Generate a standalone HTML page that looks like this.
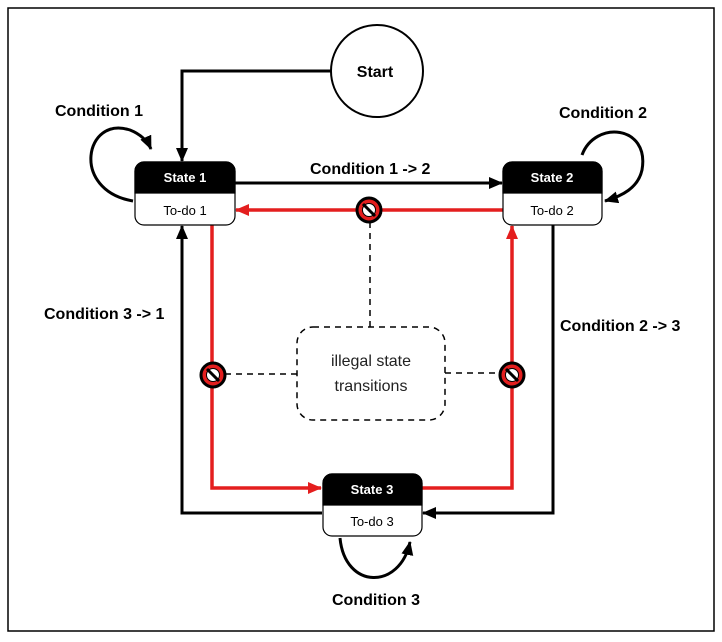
<!DOCTYPE html>
<html><head><style>
body{margin:0;background:#fff}
svg text{font-family:"Liberation Sans",sans-serif}
</style></head><body>
<svg width="722" height="637" viewBox="0 0 722 637" xmlns="http://www.w3.org/2000/svg">
<defs>
<marker id="ar" markerWidth="14" markerHeight="12" refX="13" refY="6" orient="auto" markerUnits="userSpaceOnUse"><path d="M0,0 L14,6 L0,12 z" fill="#e41e1e"/></marker>
<marker id="ab2" markerWidth="14" markerHeight="12" refX="13" refY="6" orient="auto" markerUnits="userSpaceOnUse"><path d="M0,0 L14,6 L0,12 z" fill="#000"/></marker>
<g id="no"><circle r="12" fill="#e41e1e" stroke="#000" stroke-width="3"/><circle r="6.5" fill="#fff" stroke="#000" stroke-width="1"/><line x1="-6" y1="-6" x2="6" y2="6" stroke="#000" stroke-width="3"/></g>
</defs>
<rect x="8" y="8" width="706" height="623" fill="none" stroke="#000" stroke-width="1.5"/>
<circle cx="377" cy="71" r="46" fill="#fff" stroke="#000" stroke-width="2"/>
<text x="375" y="77" font-size="16" font-weight="bold" text-anchor="middle">Start</text>
<polyline points="331,71 182,71 182,161" fill="none" stroke="#000" stroke-width="3" marker-end="url(#ab2)"/>
<line x1="235" y1="183" x2="502" y2="183" stroke="#000" stroke-width="3" marker-end="url(#ab2)"/>
<polyline points="322,513 182,513 182,226" fill="none" stroke="#000" stroke-width="3" marker-end="url(#ab2)"/>
<polyline points="553,225 553,513 423,513" fill="none" stroke="#000" stroke-width="3" marker-end="url(#ab2)"/>
<line x1="503" y1="210" x2="236" y2="210" stroke="#e41e1e" stroke-width="3.5" marker-end="url(#ar)"/>
<polyline points="212,225 212,488 321,488" fill="none" stroke="#e41e1e" stroke-width="3.5" marker-end="url(#ar)"/>
<polyline points="421,488 512,488 512,226" fill="none" stroke="#e41e1e" stroke-width="3.5" marker-end="url(#ar)"/>
<g stroke="#000" stroke-width="1.5" stroke-dasharray="6,5" fill="none">
<rect x="297" y="327" width="148" height="93" rx="16"/>
<line x1="370" y1="222" x2="370" y2="327"/>
<line x1="225" y1="374" x2="297" y2="374"/>
<line x1="445" y1="373" x2="500" y2="373"/>
</g>
<text x="371" y="366" font-size="16" text-anchor="middle" fill="#222">illegal state</text>
<text x="371" y="391" font-size="16" text-anchor="middle" fill="#222">transitions</text>
<use href="#no" x="369" y="210"/>
<use href="#no" x="213" y="375"/>
<use href="#no" x="512" y="375"/>
<path d="M133,201 C70,190 85,115 130,130 C140,134 147,140 151,149" fill="none" stroke="#000" stroke-width="3" marker-end="url(#ab2)"/>
<path d="M582,155 C595,120 650,125 642,170 C638,188 622,196 605,201" fill="none" stroke="#000" stroke-width="3" marker-end="url(#ab2)"/>
<path d="M340,538 C345,590 400,590 410,542" fill="none" stroke="#000" stroke-width="3" marker-end="url(#ab2)"/>
<g stroke="#000" stroke-width="1.2">
<rect x="135" y="162" width="100" height="63" rx="9" fill="#fff"/>
<path d="M135,193 V171 a9,9 0 0 1 9,-9 H226 a9,9 0 0 1 9,9 V193 Z" fill="#000"/>
<rect x="503" y="162" width="99" height="63" rx="9" fill="#fff"/>
<path d="M503,193 V171 a9,9 0 0 1 9,-9 H593 a9,9 0 0 1 9,9 V193 Z" fill="#000"/>
<rect x="323" y="474" width="99" height="62" rx="9" fill="#fff"/>
<path d="M323,505 V483 a9,9 0 0 1 9,-9 H413 a9,9 0 0 1 9,9 V505 Z" fill="#000"/>
</g>
<g font-size="13" text-anchor="middle">
<text x="185" y="182" fill="#fff" font-weight="bold">State 1</text>
<text x="185" y="215">To-do 1</text>
<text x="552" y="182" fill="#fff" font-weight="bold">State 2</text>
<text x="552" y="215">To-do 2</text>
<text x="372" y="494" fill="#fff" font-weight="bold">State 3</text>
<text x="372" y="526">To-do 3</text>
</g>
<g font-size="16" font-weight="bold">
<text x="55" y="116">Condition 1</text>
<text x="559" y="118">Condition 2</text>
<text x="310" y="174">Condition 1 -&gt; 2</text>
<text x="44" y="319">Condition 3 -&gt; 1</text>
<text x="560" y="331">Condition 2 -&gt; 3</text>
<text x="332" y="605">Condition 3</text>
</g>
</svg>
</body></html>
